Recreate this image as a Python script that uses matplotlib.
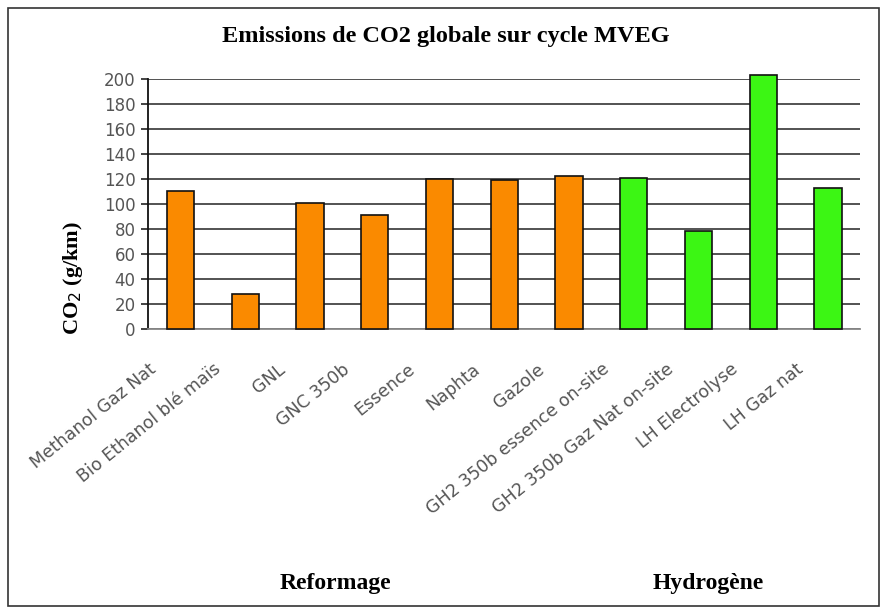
import matplotlib
matplotlib.use("Agg")
import matplotlib.pyplot as plt
from matplotlib.patches import Rectangle
from matplotlib.transforms import offset_copy

# Emissions de CO2 globale sur cycle MVEG (g/km)
CATEGORIES = [
    "Methanol Gaz Nat",
    "Bio Ethanol blé maïs",
    "GNL",
    "GNC 350b",
    "Essence",
    "Naphta",
    "Gazole",
    "GH2 350b essence on-site",
    "GH2 350b Gaz Nat on-site",
    "LH Electrolyse",
    "LH Gaz nat",
]
CO2_VALUES = [110, 28, 101, 91, 120, 119, 122, 121, 78, 203, 113]
GROUPS = ["Reformage"] * 7 + ["Hydrogène"] * 4
GROUP_COLORS = {"Reformage": "#FA8A00", "Hydrogène": "#3CF614"}
Y_TICKS = list(range(0, 201, 20))

fig = plt.figure(figsize=(8.87, 6.15), dpi=100)
fig.patches.append(
    Rectangle((0.009, 0.015), 0.982, 0.972, transform=fig.transFigure,
              fill=False, edgecolor="#333333", linewidth=1.2)
)

ax = fig.add_axes([0.167, 0.465, 0.803, 0.407])
x = list(range(len(CATEGORIES)))
colors = [GROUP_COLORS[g] for g in GROUPS]
bars = ax.bar(x, CO2_VALUES, width=0.42, color=colors, edgecolor="#111111",
              linewidth=1.2, zorder=3)
for b in bars:
    b.set_clip_on(False)

ax.set_xlim(-0.5, len(CATEGORIES) - 0.5)
ax.set_ylim(0, 200)
ax.set_yticks(Y_TICKS)
ax.set_yticklabels([str(t) for t in Y_TICKS], fontsize=12, color="#555555",
                   family="DejaVu Sans")
ax.tick_params(axis="y", length=5, width=1.2, color="#222222", pad=4)
ax.set_xticks([])
ax.grid(axis="y", color="#444444", linewidth=1.3, zorder=0)

for side in ["top", "right"]:
    ax.spines[side].set_visible(False)
ax.spines["left"].set_color("#111111")
ax.spines["left"].set_linewidth(1.3)
ax.spines["bottom"].set_color("#888888")
ax.spines["bottom"].set_linewidth(1.3)

label_trans = offset_copy(ax.get_xaxis_transform(), fig=fig, x=-27, y=-38,
                          units="dots")
for i, name in enumerate(CATEGORIES):
    ax.text(i, 0, name, transform=label_trans, rotation=39,
            rotation_mode="anchor", ha="right", va="center", fontsize=12.5,
            color="#555555", family="DejaVu Sans")

fig.text(73 / 887, 1 - 278 / 615, "CO$_2$ (g/km)", rotation=90,
         ha="center", va="center", fontsize=16, fontweight="bold",
         family="Liberation Serif")

fig.text(0.503, 0.941, "Emissions de CO2 globale sur cycle MVEG",
         ha="center", va="center", fontsize=17.5, fontweight="bold",
         family="Liberation Serif")
fig.text(335 / 887, 0.052, "Reformage", ha="center", va="center",
         fontsize=17, fontweight="bold", family="Liberation Serif")
fig.text(708 / 887, 0.052, "Hydrogène", ha="center", va="center",
         fontsize=17, fontweight="bold", family="Liberation Serif")

fig.savefig("out.png", dpi=100)
